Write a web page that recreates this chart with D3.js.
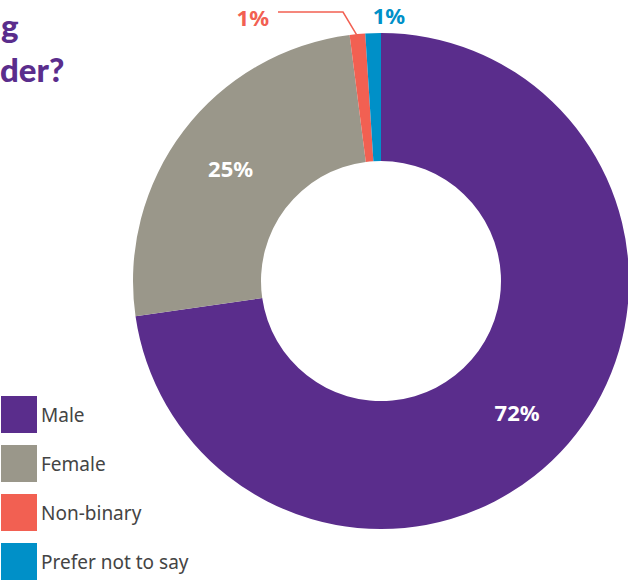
<!DOCTYPE html>
<html>
<head>
<meta charset="utf-8">
<script src="https://cdn.jsdelivr.net/npm/d3@7"></script>
<style>
  body { margin: 0; background: #fff; }
  svg { display: block; }
</style>
</head>
<body>
<svg id="chart" width="628" height="581"></svg>
<script>
const categories = ['Male', 'Female', 'Non-binary', 'Prefer not to say']
const values = [72, 25, 1, 1]
const colors = ['#5a2d8c', '#9a978a', '#f26052', '#0090c8']
// only the tail of the title is visible in the frame
const titleLines = ['g', 'der?']

const width = 628, height = 581
const cx = 381, cy = 281
const outerR = 248, innerR = 120
const font = '"Noto Sans", "Open Sans", sans-serif'

const svg = d3.select('#chart')

const color = d3.scaleOrdinal().domain(categories).range(colors)

const data = categories.map((c, i) => ({ name: c, value: values[i] }))

const pie = d3.pie().sort(null).value(d => d.value)
const arc = d3.arc().innerRadius(innerR).outerRadius(outerR)
const arcs = pie(data)

svg.append('g').attr('class', 'title')
    .selectAll('text')
    .data(titleLines)
    .join('text')
    .attr('x', (d, i) => i === 0 ? 1 : 0)
    .attr('y', (d, i) => i === 0 ? 38 : 82)
    .attr('fill', '#5a2d8c')
    .style('font-family', 'Lato, "Open Sans", sans-serif')
    .style('font-weight', 900)
    .style('font-size', '33px')
    .text(d => d)

const donut = svg.append('g').attr('transform', `translate(${cx},${cy})`)

donut.selectAll('path')
    .data(arcs)
    .join('path')
    .attr('d', arc)
    .attr('fill', d => color(d.data.name))

// labels inside the big slices
const labelArc = d3.arc().innerRadius((innerR + outerR) / 2).outerRadius((innerR + outerR) / 2)

donut.selectAll('text.inner')
    .data(arcs.filter(d => d.data.value > 5))
    .join('text')
    .attr('class', 'inner')
    .attr('transform', d => {
        const [x, y] = labelArc.centroid(d)
        return `translate(${x},${y})`
    })
    .attr('text-anchor', 'middle')
    .attr('dy', d => d.data.name === 'Male' ? '0.9em' : '0.35em')
    .attr('dx', d => d.data.name === 'Male' ? '-3' : '-4')
    .attr('fill', '#fff')
    .style('font-family', font)
    .style('font-weight', 700)
    .style('font-size', '22px')
    .text(d => d.data.value + '%')

// small slices get outside labels
const small = arcs.filter(d => d.data.value <= 5)
const nb = small[0], pn = small[1]

const nbEdge = d3.arc().innerRadius(outerR).outerRadius(outerR).centroid(nb)
donut.append('path')
    .attr('d', `M${nbEdge[0]},${nbEdge[1] + 2} L${343 - cx},${12 - cy} L${278 - cx},${12 - cy}`)
    .attr('fill', 'none')
    .attr('stroke', color(nb.data.name))
    .attr('stroke-width', 1.5)

donut.append('text')
    .attr('x', 269 - cx)
    .attr('y', 26 - cy)
    .attr('text-anchor', 'end')
    .attr('fill', color(nb.data.name))
    .style('font-family', font)
    .style('font-weight', 700)
    .style('font-size', '22px')
    .text(nb.data.value + '%')

donut.append('text')
    .attr('x', 389 - cx)
    .attr('y', 24 - cy)
    .attr('text-anchor', 'middle')
    .attr('fill', color(pn.data.name))
    .style('font-family', font)
    .style('font-weight', 700)
    .style('font-size', '22px')
    .text(pn.data.value + '%')

// legend
const legendY = d3.scaleBand().domain(categories).range([396, 396 + 49 * 4]).paddingInner(0)

const legend = svg.append('g').attr('class', 'legend')
    .selectAll('g')
    .data(categories)
    .join('g')
    .attr('transform', d => `translate(1,${legendY(d)})`)

legend.append('rect')
    .attr('width', 36)
    .attr('height', 37)
    .attr('fill', d => color(d))

legend.append('text')
    .attr('x', 40)
    .attr('y', 26)
    .attr('fill', '#444')
    .style('font-family', font)
    .style('font-size', '19px')
    .text(d => d)
</script>
</body>
</html>
